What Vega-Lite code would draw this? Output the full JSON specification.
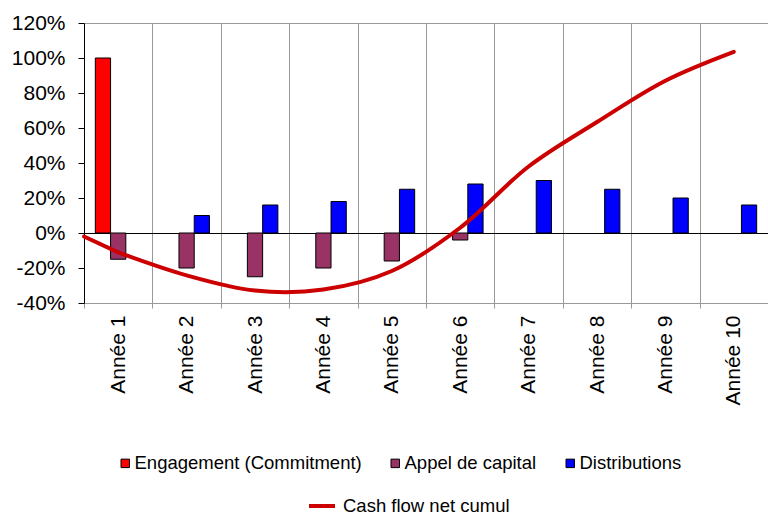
{
  "$schema": "https://vega.github.io/schema/vega-lite/v6.json",
  "width": 684,
  "height": 280,
  "autosize": {"type": "none"},
  "padding": {"left": 84, "top": 23, "right": 0, "bottom": 209},
  "config": {
    "view": {"stroke": null},
    "font": "Liberation Sans",
    "axis": {"labelColor": "black", "titleColor": "black"},
    "legend": {"labelColor": "black"}
  },
  "layer": [
    {
      "data": {"values": [
        {"year": "Année 1", "series": "Engagement (Commitment)", "value": 1.0},
        {"year": "Année 1", "series": "Appel de capital", "value": -0.15},
        {"year": "Année 2", "series": "Appel de capital", "value": -0.20},
        {"year": "Année 2", "series": "Distributions", "value": 0.10},
        {"year": "Année 3", "series": "Appel de capital", "value": -0.25},
        {"year": "Année 3", "series": "Distributions", "value": 0.16},
        {"year": "Année 4", "series": "Appel de capital", "value": -0.20},
        {"year": "Année 4", "series": "Distributions", "value": 0.18},
        {"year": "Année 5", "series": "Appel de capital", "value": -0.16},
        {"year": "Année 5", "series": "Distributions", "value": 0.25},
        {"year": "Année 6", "series": "Appel de capital", "value": -0.04},
        {"year": "Année 6", "series": "Distributions", "value": 0.28},
        {"year": "Année 7", "series": "Distributions", "value": 0.30},
        {"year": "Année 8", "series": "Distributions", "value": 0.25},
        {"year": "Année 9", "series": "Distributions", "value": 0.20},
        {"year": "Année 10", "series": "Distributions", "value": 0.16}
      ]},
      "mark": {"type": "bar", "stroke": "black", "strokeWidth": 1},
      "encoding": {
        "x": {
          "field": "year",
          "type": "nominal",
          "sort": ["Année 1", "Année 2", "Année 3", "Année 4", "Année 5", "Année 6", "Année 7", "Année 8", "Année 9", "Année 10"],
          "scale": {"paddingInner": 0, "paddingOuter": 0},
          "axis": {
            "title": null,
            "labelAngle": -90,
            "labelFontSize": 21,
            "labelPadding": 7,
            "tickBand": "extent",
            "tickSize": 5,
            "tickColor": "#999999",
            "domainColor": "#999999",
            "grid": true,
            "gridColor": "#999999",
            "gridOpacity": 1
          }
        },
        "xOffset": {
          "field": "series",
          "type": "nominal",
          "sort": ["Engagement (Commitment)", "Appel de capital", "Distributions"],
          "scale": {"paddingInner": 0, "paddingOuter": 0.742}
        },
        "y": {
          "field": "value",
          "type": "quantitative",
          "scale": {"domain": [-0.4, 1.2], "nice": false, "zero": false},
          "axis": {
            "title": null,
            "values": [-0.4, -0.2, 0, 0.2, 0.4, 0.6, 0.8, 1.0, 1.2],
            "tickCount": 20,
            "labelExpr": "round(datum.value * 100) + '%'",
            "labelFontSize": 21,
            "labelPadding": 13,
            "labelOverlap": false,
            "tickSize": 6,
            "tickColor": "black",
            "domainColor": "black",
            "grid": true,
            "gridColor": {"condition": {"test": "datum.value === 0", "value": "black"}, "value": "#999999"},
            "gridOpacity": {"condition": {"test": "datum.value === 0 || datum.value === 1.2", "value": 1}, "value": 0}
          }
        },
        "fill": {
          "field": "series",
          "type": "nominal",
          "scale": {
            "domain": ["Engagement (Commitment)", "Appel de capital", "Distributions"],
            "range": ["#ff0000", "#993366", "#0000ff"]
          },
          "legend": {
            "title": null,
            "orient": "none",
            "legendX": 32,
            "legendY": 431,
            "direction": "horizontal",
            "symbolType": "square",
            "symbolSize": 72,
            "symbolStrokeColor": "black",
            "symbolStrokeWidth": 1,
            "labelFontSize": 18.5,
            "labelLimit": 0,
            "labelOffset": 0,
            "columnPadding": 24
          }
        }
      }
    },
    {
      "data": {"values": [
        {"year": "Année 1", "start": -0.02, "end": -0.111}
      ]},
      "mark": {"type": "rule", "color": "#cc0000", "strokeWidth": 4, "strokeCap": "round"},
      "encoding": {
        "x": {
          "field": "year",
          "type": "nominal",
          "bandPosition": 0,
          "sort": ["Année 1", "Année 2", "Année 3", "Année 4", "Année 5", "Année 6", "Année 7", "Année 8", "Année 9", "Année 10"]
        },
        "x2": {"field": "year", "bandPosition": 0.5},
        "y": {"field": "start", "type": "quantitative"},
        "y2": {"field": "end"}
      }
    },
    {
      "data": {"values": [
        {"year": "Année 1", "series": "Cash flow net cumul", "value": -0.111},
        {"year": "Année 2", "series": "Cash flow net cumul", "value": -0.242},
        {"year": "Année 3", "series": "Cash flow net cumul", "value": -0.329},
        {"year": "Année 4", "series": "Cash flow net cumul", "value": -0.323},
        {"year": "Année 5", "series": "Cash flow net cumul", "value": -0.217},
        {"year": "Année 6", "series": "Cash flow net cumul", "value": 0.03},
        {"year": "Année 7", "series": "Cash flow net cumul", "value": 0.38},
        {"year": "Année 8", "series": "Cash flow net cumul", "value": 0.634},
        {"year": "Année 9", "series": "Cash flow net cumul", "value": 0.87},
        {"year": "Année 10", "series": "Cash flow net cumul", "value": 1.035}
      ]},
      "mark": {"type": "line", "interpolate": "catmull-rom", "strokeWidth": 4, "strokeCap": "round"},
      "encoding": {
        "x": {
          "field": "year",
          "type": "nominal",
          "sort": ["Année 1", "Année 2", "Année 3", "Année 4", "Année 5", "Année 6", "Année 7", "Année 8", "Année 9", "Année 10"]
        },
        "y": {"field": "value", "type": "quantitative"},
        "stroke": {
          "field": "series",
          "type": "nominal",
          "scale": {"range": ["#cc0000"]},
          "legend": {
            "title": null,
            "orient": "none",
            "legendX": 223,
            "legendY": 468,
            "symbolType": "stroke",
            "symbolSize": 676,
            "symbolStrokeWidth": 4,
            "labelFontSize": 18.5,
            "labelLimit": 0,
            "labelOffset": 6
          }
        }
      }
    }
  ]
}
